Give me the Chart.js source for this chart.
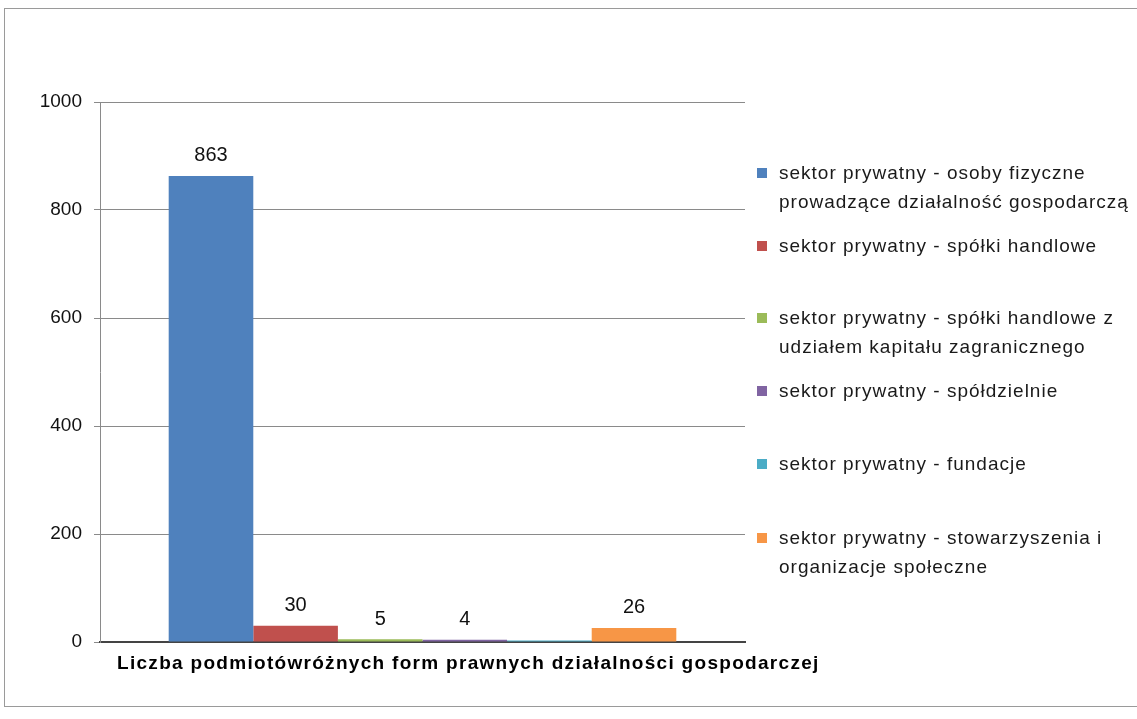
<!DOCTYPE html>
<html>
<head>
<meta charset="utf-8">
<script src="https://cdn.jsdelivr.net/npm/chart.js@4/dist/chart.umd.min.js"></script>
<style>
  html, body { margin: 0; padding: 0; background: #fff; }
  body { width: 1137px; height: 719px; position: relative; overflow: hidden; font-family: "Liberation Sans", Arial, sans-serif; }
  #frame { position: absolute; left: 4px; top: 8px; width: 1140px; height: 699px; border: 1px solid #9a9a9a; box-sizing: border-box; }
  #wrap { position: absolute; left: 0; top: 0; width: 760px; height: 700px; }
  #legend { position: absolute; left: 757px; top: 0; width: 380px; }
  .item { position: absolute; left: 0; }
  .sw { position: absolute; left: 0; width: 10px; height: 10px; }
  .txt { position: absolute; left: 22px; font-size: 19px; line-height: 29px; letter-spacing: 1px; color: #1a1a1a; white-space: nowrap; }
  #xlabel { position: absolute; left: 117px; top: 652px; font-size: 19px; font-weight: bold; letter-spacing: 1.3px; color: #000; white-space: nowrap; }
</style>
</head>
<body>
<div id="frame"></div>
<div id="wrap"><canvas id="c"></canvas></div>
<div id="legend"></div>
<div id="xlabel"></div>
<script>
const categories = ["Liczba podmiotówróżnych form prawnych działalności gospodarczej"];
const seriesNames = [
  "sektor prywatny - osoby fizyczne\nprowadzące działalność gospodarczą",
  "sektor prywatny - spółki handlowe",
  "sektor prywatny - spółki handlowe z\nudziałem kapitału zagranicznego",
  "sektor prywatny - spółdzielnie",
  "sektor prywatny - fundacje",
  "sektor prywatny - stowarzyszenia i\norganizacje społeczne"
];
const seriesValues = [863, 30, 5, 4, 3, 26];
const valueLabels = ["863", "30", "5", "4", "", "26"];
const seriesColors = ["#4F81BD", "#C0504D", "#9BBB59", "#8064A2", "#4BACC6", "#F79646"];
const yTicks = [0, 200, 400, 600, 800, 1000];
const legendTops = [158, 231, 303, 376, 449, 523];

const datasets = seriesNames.map((n, i) => ({
  label: n.replace("\n", " "),
  data: [seriesValues[i]],
  backgroundColor: seriesColors[i],
  borderWidth: 0
}));

const labelPlugin = {
  id: 'vlabels',
  afterDatasetsDraw(chart) {
    const ctx = chart.ctx;
    ctx.save();
    ctx.font = '20px "Liberation Sans", Arial, sans-serif';
    ctx.fillStyle = '#111';
    ctx.textAlign = 'center';
    ctx.textBaseline = 'bottom';
    chart.data.datasets.forEach((ds, i) => {
      const el = chart.getDatasetMeta(i).data[0];
      if (valueLabels[i]) ctx.fillText(valueLabels[i], el.x, el.y - 10);
    });
    ctx.restore();
  }
};

new Chart(document.getElementById('c'), {
  type: 'bar',
  data: { labels: categories, datasets },
  plugins: [labelPlugin],
  options: {
    responsive: true,
    maintainAspectRatio: false,
    animation: false,
    layout: { padding: { left: 0, right: 15, top: 102, bottom: 0 } },
    plugins: { legend: { display: false }, tooltip: { enabled: false } },
    datasets: { bar: { categoryPercentage: 0.787, barPercentage: 1.0 } },
    scales: {
      x: {
        grid: { display: false, drawTicks: false },
        border: { color: '#444', width: 2 },
        ticks: { display: false },
        afterFit(s) { s.height = 58; }
      },
      y: {
        min: 0, max: 1000,
        afterBuildTicks(s) { s.ticks = yTicks.map(v => ({ value: v })); },
        grid: { color: '#8a8a8a', tickLength: 6, lineWidth: 1 },
        border: { color: '#8a8a8a' },
        ticks: { color: '#111', font: { family: '"Liberation Sans", Arial, sans-serif', size: 19 }, padding: 12, callback: v => String(v) },
        afterFit(s) { s.width = 100; }
      }
    }
  }
});

document.getElementById('xlabel').textContent = categories[0];

const lg = document.getElementById('legend');
seriesNames.forEach((n, i) => {
  const it = document.createElement('div');
  it.className = 'item';
  it.style.top = legendTops[i] + 'px';
  const sw = document.createElement('div');
  sw.className = 'sw';
  sw.style.background = seriesColors[i];
  sw.style.top = '10px';
  const tx = document.createElement('div');
  tx.className = 'txt';
  tx.innerHTML = n.split("\n").join("<br>");
  it.appendChild(sw); it.appendChild(tx);
  lg.appendChild(it);
});
</script>
</body>
</html>
